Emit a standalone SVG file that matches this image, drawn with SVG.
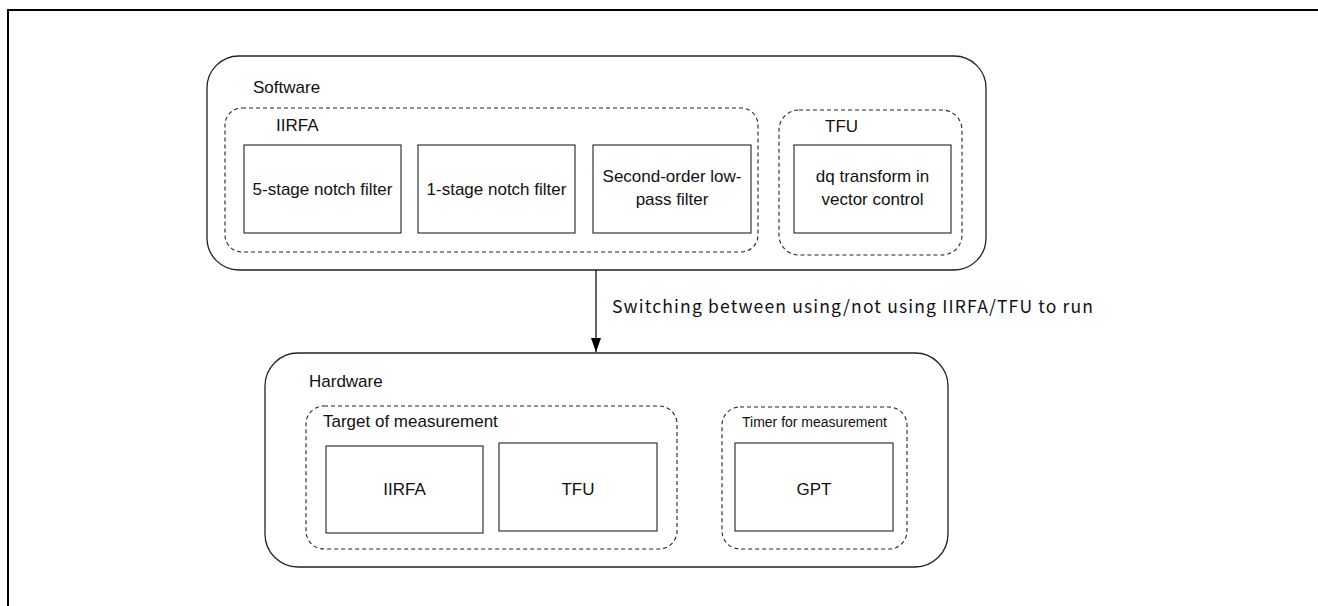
<svg xmlns="http://www.w3.org/2000/svg" width="1318" height="606" viewBox="0 0 1318 606">
<style>
.frame{fill:none;stroke:#000;stroke-width:2}
.outer{fill:#fff;stroke:#222;stroke-width:1.3}
.dash{fill:none;stroke:#222;stroke-width:1.1;stroke-dasharray:4 3}
.box{fill:#fff;stroke:#222;stroke-width:1.1}
.conn{fill:none;stroke:#000;stroke-width:1.2}
text{font-family:"Liberation Sans",Arial,sans-serif;font-size:17px;fill:#111}
.c{text-anchor:middle}
.sm{font-size:14px}
.lbl{font-family:"Noto Sans CJK JP","Liberation Sans",sans-serif;font-size:17.5px}
</style>
<defs>
<marker id="ah" markerWidth="14" markerHeight="10" refX="14" refY="5" orient="auto" markerUnits="userSpaceOnUse" viewBox="0 0 14 10">
<path d="M0,0 L14,5 L0,10 Z" fill="#000"/>
</marker>
</defs>
<rect width="1318" height="606" fill="#fff"/>
<path class="frame" d="M8,606 L8,10 L1318,10"/>

<g id="software">
<rect class="outer" x="207" y="56" width="779" height="214" rx="32" ry="32"/>
<text x="253" y="93">Software</text>
</g>
<g id="iirfa-group">
<rect class="dash" x="225" y="108" width="533" height="144" rx="17" ry="17"/>
<text x="276" y="131">IIRFA</text>
</g>
<g id="notch5">
<rect class="box" x="244" y="145" width="157" height="88"/>
<text class="c" x="322.5" y="195">5-stage notch filter</text>
</g>
<g id="notch1">
<rect class="box" x="418" y="145" width="157" height="88"/>
<text class="c" x="496.5" y="195">1-stage notch filter</text>
</g>
<g id="lowpass">
<rect class="box" x="593" y="145" width="158" height="88"/>
<text class="c" x="672" y="182">Second-order low-</text>
<text class="c" x="672" y="205">pass filter</text>
</g>
<g id="tfu-group">
<rect class="dash" x="779" y="110" width="183" height="145" rx="20" ry="20"/>
<text x="825" y="132">TFU</text>
</g>
<g id="dq">
<rect class="box" x="794" y="145" width="157" height="88"/>
<text class="c" x="872.5" y="182">dq transform in</text>
<text class="c" x="872.5" y="205">vector control</text>
</g>

<g id="hardware">
<rect class="outer" x="265" y="353" width="683" height="214" rx="33" ry="33"/>
<text x="309" y="387">Hardware</text>
</g>
<g id="target-group">
<rect class="dash" x="306" y="406" width="371" height="143" rx="18" ry="18"/>
<text x="323" y="427">Target of measurement</text>
</g>
<g id="hw-iirfa">
<rect class="box" x="326" y="446" width="157" height="87"/>
<text class="c" x="404.5" y="495">IIRFA</text>
</g>
<g id="hw-tfu">
<rect class="box" x="499" y="443" width="158" height="88"/>
<text class="c" x="578" y="495">TFU</text>
</g>
<g id="timer-group">
<rect class="dash" x="722" y="407" width="185" height="142" rx="18" ry="18"/>
<text class="sm" x="742" y="427">Timer for measurement</text>
</g>
<g id="gpt">
<rect class="box" x="735" y="443" width="158" height="88"/>
<text class="c" x="814" y="495">GPT</text>
</g>

<g id="connectors">
<line class="conn" x1="596" y1="270" x2="596" y2="352" marker-end="url(#ah)"/>
<text class="lbl" x="612" y="313" textLength="481" lengthAdjust="spacing">Switching between using/not using IIRFA/TFU to run</text>
</g>
</svg>
